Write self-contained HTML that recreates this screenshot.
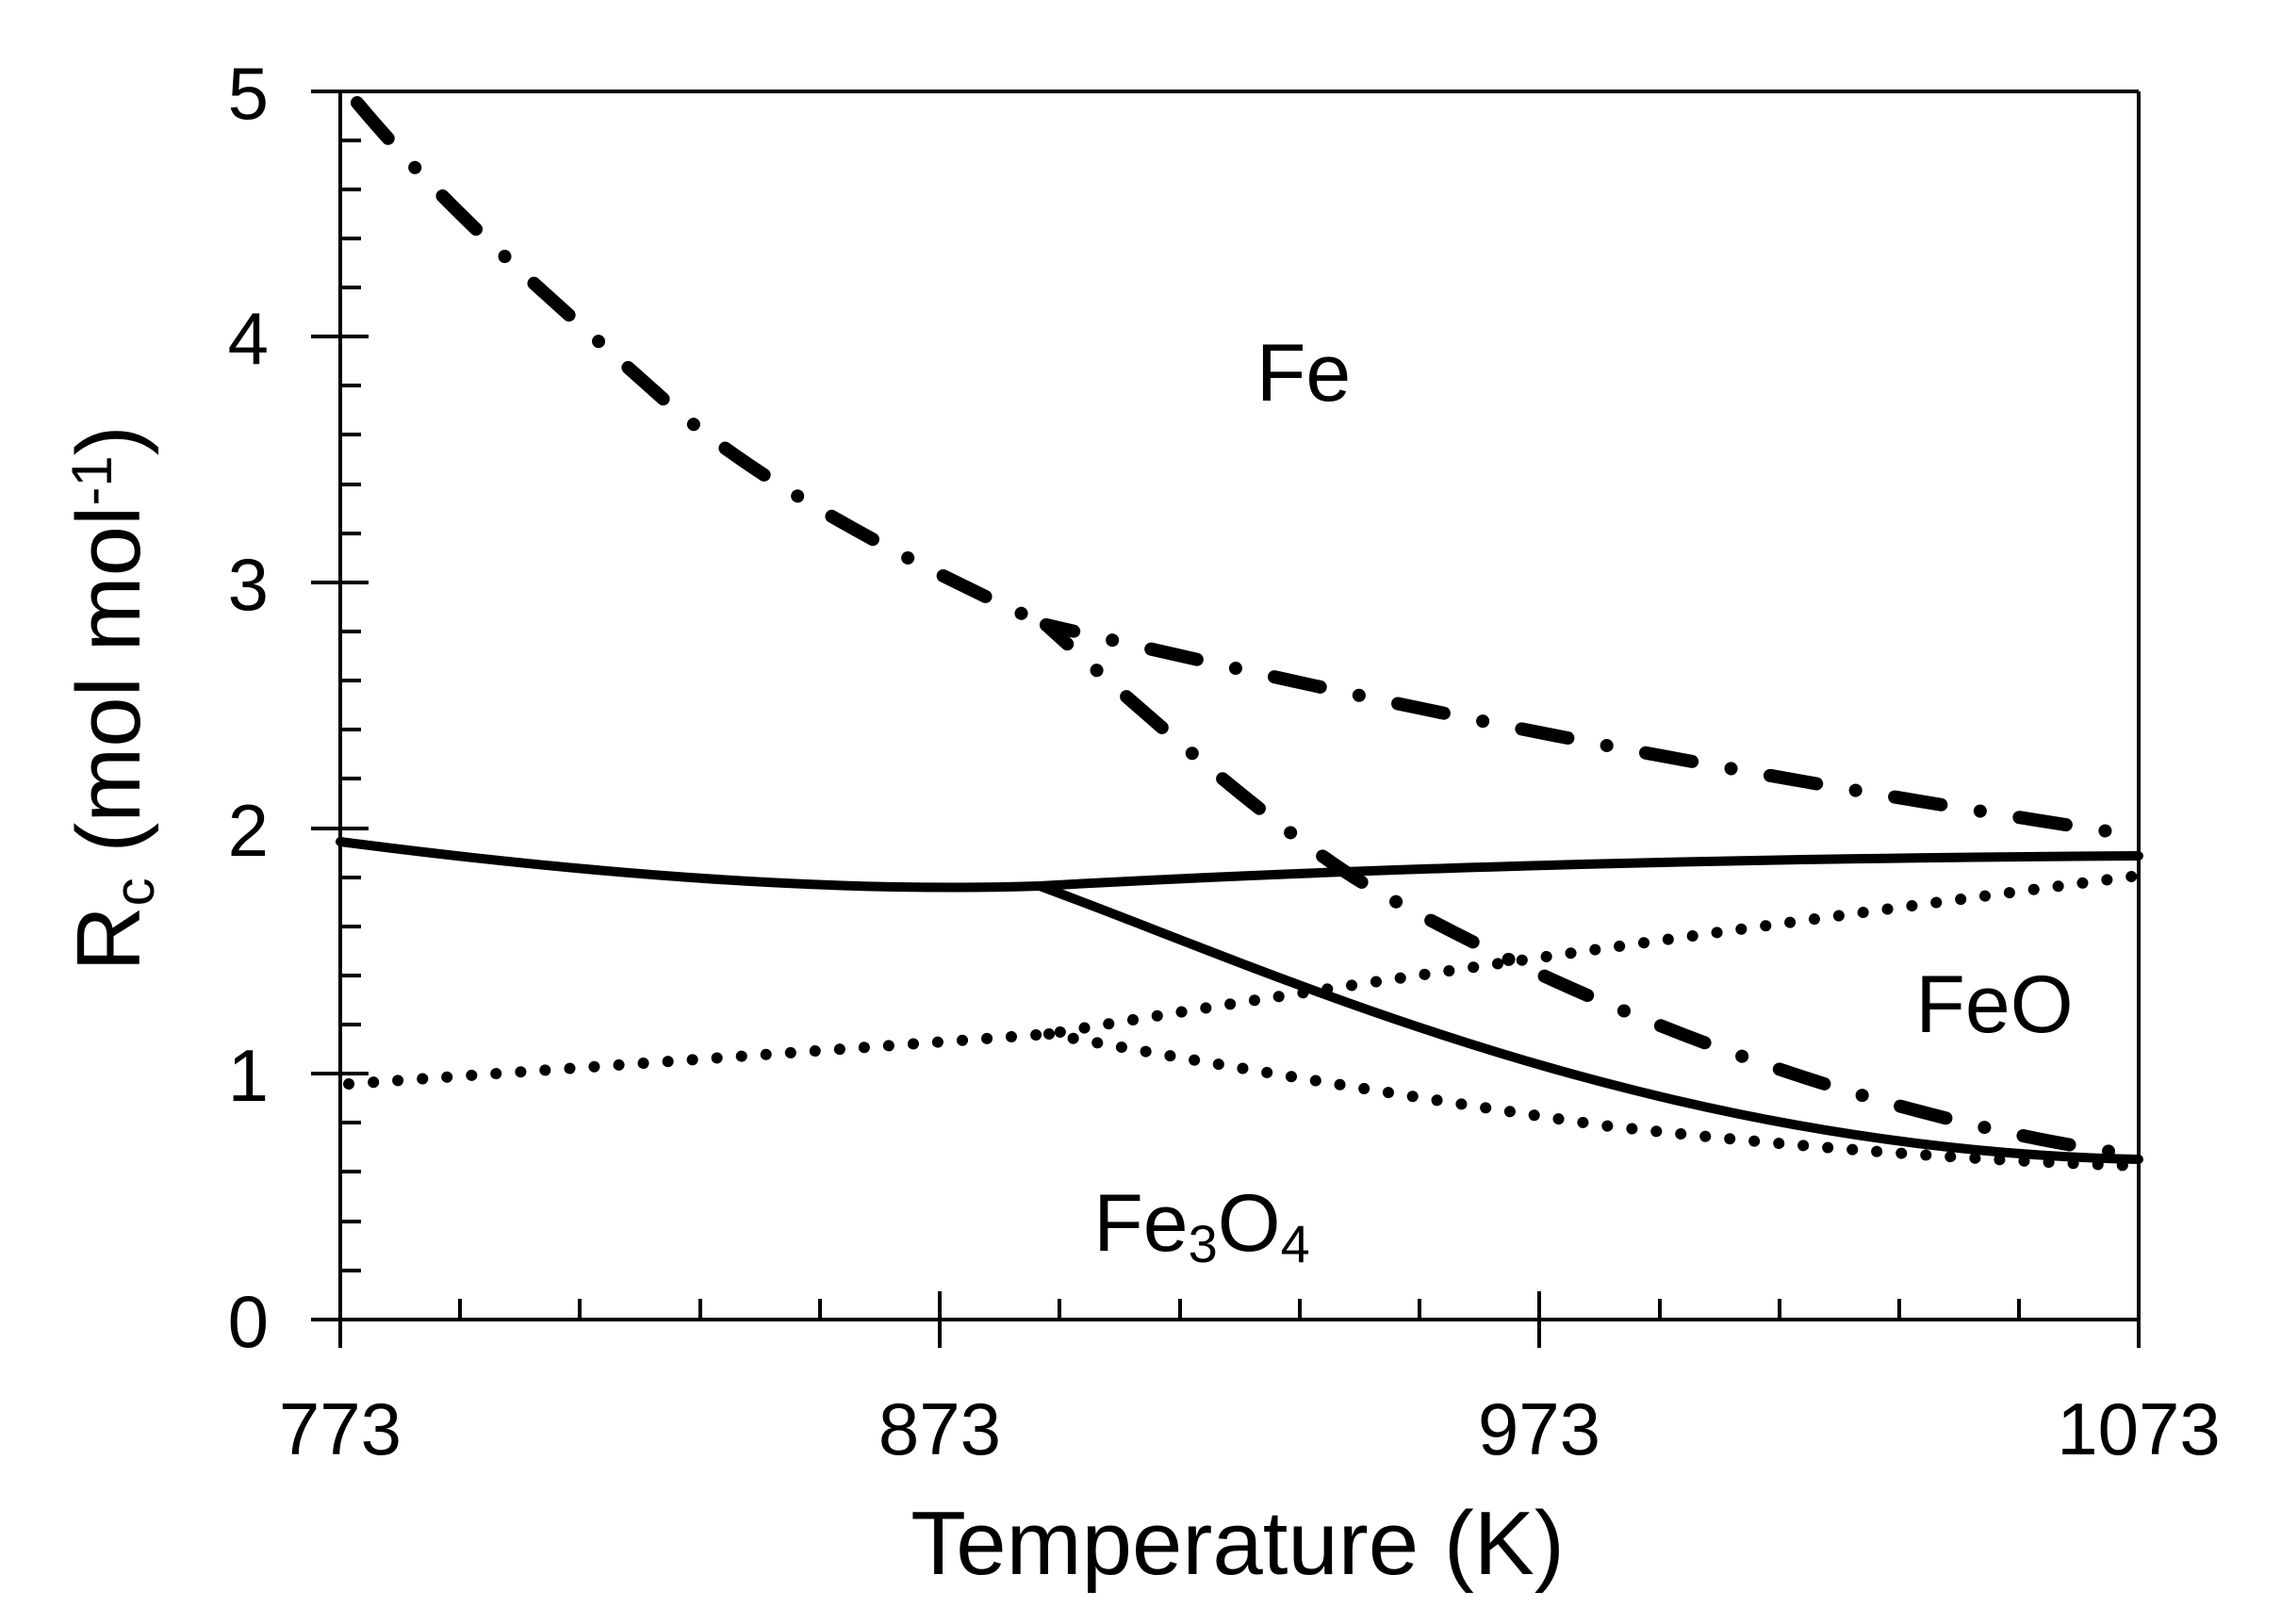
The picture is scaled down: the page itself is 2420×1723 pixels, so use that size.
<!DOCTYPE html>
<html><head><style>
html,body{margin:0;padding:0;background:#fff;}
svg{display:block;}
text{font-family:"Liberation Sans",sans-serif;fill:#000;}
</style></head><body>
<svg width="2420" height="1723" viewBox="0 0 2420 1723" xmlns="http://www.w3.org/2000/svg">
<g stroke="#000" stroke-width="4" fill="none">
<line x1="330" y1="97" x2="2269" y2="97"/>
<line x1="2269" y1="97" x2="2269" y2="1400"/>
<line x1="361" y1="97" x2="361" y2="1430"/>
<line x1="330" y1="1400" x2="2269" y2="1400"/>
<line x1="330" y1="357" x2="391" y2="357"/>
<line x1="330" y1="618" x2="391" y2="618"/>
<line x1="330" y1="879" x2="391" y2="879"/>
<line x1="330" y1="1139" x2="391" y2="1139"/>
<path d="M361 149h22M361 201h22M361 253h22M361 305h22M361 409h22M361 461h22M361 514h22M361 566h22M361 670h22M361 722h22M361 774h22M361 826h22M361 931h22M361 983h22M361 1035h22M361 1087h22M361 1191h22M361 1243h22M361 1296h22M361 1348h22"/>
<path d="M488 1400v-22M615 1400v-22M743 1400v-22M870 1400v-22M1124 1400v-22M1252 1400v-22M1379 1400v-22M1506 1400v-22M1633 1400v-22M1761 1400v-22M1888 1400v-22M2015 1400v-22M2142 1400v-22"/>
<path d="M997 1370v60M1633 1370v60M2269 1370v60"/>
</g>
<g stroke="#000" stroke-width="10" fill="none" stroke-linecap="round">
<path d="M361 893 Q 800 950 1103 940 Q 1600 912 2269 908"/>
<path d="M1103 940 C 1350 1030, 1750 1220, 2269 1230"/>
</g>
<g stroke="#000" stroke-width="14" fill="none" stroke-linecap="round" stroke-dasharray="50 42 0.1 42">
<path d="M379 109 C 480 230, 600 330, 700 420 S 950 590, 1110 663"/>
<path d="M1110 663 C 1400 730, 1700 800, 2269 887" stroke-dashoffset="20"/>
<path d="M1110 663 C 1250 790, 1380 900, 1460 945 C 1700 1080, 2000 1190, 2269 1226" stroke-dashoffset="20"/>
</g>
<g stroke="#000" stroke-width="12" fill="none" stroke-linecap="round" stroke-dasharray="0.1 26">
<path d="M370 1150 Q 800 1120 1113 1097 Q 1500 1030 2269 929"/>
<path d="M1113 1097 Q 1400 1150 1700 1194 Q 2000 1228 2269 1237"/>
</g>
<g font-size="78" text-anchor="end">
<text x="285" y="126">5</text>
<text x="285" y="386">4</text>
<text x="285" y="647">3</text>
<text x="285" y="908">2</text>
<text x="285" y="1168">1</text>
<text x="285" y="1429">0</text>
</g>
<g font-size="78" text-anchor="middle">
<text x="361" y="1543">773</text>
<text x="997" y="1543">873</text>
<text x="1633" y="1543">973</text>
<text x="2269" y="1543">1073</text>
</g>
<text x="1313" y="1670" font-size="96" text-anchor="middle">Temperature (K)</text>
<text transform="translate(148,741) rotate(-90)" font-size="96" text-anchor="middle">R<tspan font-size="60" dy="15">c</tspan><tspan dy="-15"> (mol mol</tspan><tspan font-size="60" dy="-30">-1</tspan><tspan dy="30">)</tspan></text>
<text x="1383" y="425" font-size="86" text-anchor="middle">Fe</text>
<text x="2116" y="1095" font-size="86" text-anchor="middle">FeO</text>
<text x="1275" y="1327" font-size="86" text-anchor="middle">Fe<tspan font-size="56" dy="12">3</tspan><tspan dy="-12">O</tspan><tspan font-size="56" dy="12">4</tspan></text>
</svg>
</body></html>
